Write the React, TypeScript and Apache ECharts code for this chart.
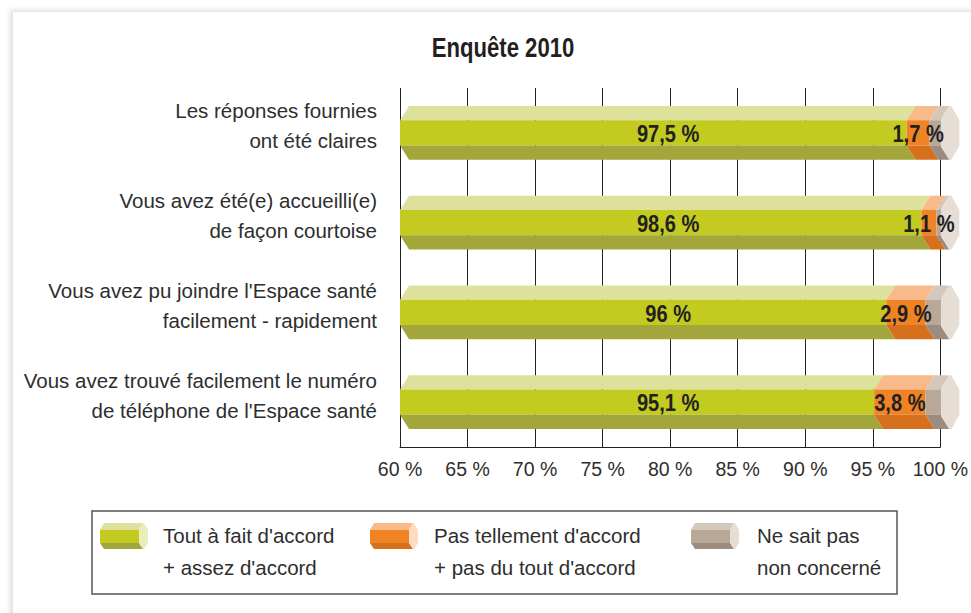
import React, { useEffect, useRef } from "react";
import * as echarts from "echarts";

const title = "Enquête 2010";
const categories = [
  "Les réponses fournies\nont été claires",
  "Vous avez été(e) accueilli(e)\nde façon courtoise",
  "Vous avez pu joindre l'Espace santé\nfacilement - rapidement",
  "Vous avez trouvé facilement le numéro\nde téléphone de l'Espace santé",
];
const agreeValues = [97.5, 98.6, 96, 95.1];
const disagreeValues = [1.7, 1.1, 2.9, 3.8];
const unknownValues = [0.8, 0.3, 1.1, 1.1];
const axisMin = 60;
const axisMax = 100;
const axisStep = 5;
const legendLabels = [
  "Tout à fait d'accord\n+ assez d'accord",
  "Pas tellement d'accord\n+ pas du tout d'accord",
  "Ne sait pas\nnon concerné",
];

const GREEN = { top: "#dde19b", mid: "#c3cb20", bottom: "#a2a63b", cap: "#e9ecbb" };
const ORANGE = { top: "#f9ba8b", mid: "#f08425", bottom: "#d7701d", cap: "#fddcc1" };
const GREY = { top: "#d4c8bc", mid: "#b9a898", bottom: "#9b8c7f", cap: "#e6ddd5" };
const PALETTES = [GREEN, ORANGE, GREY];

const REGULAR = '"Liberation Sans", Arial, sans-serif';
const TEXT = "#2e2e2e";
const NARROW_SCALE = 0.82;

const fmt = (v: number) => String(v).replace(".", ",") + " %";

function segmentRenderer(colors: any, withCap: boolean) {
  return (params: any, api: any) => {
    const cat = api.value(0);
    const s = api.value(1);
    const e = api.value(2);
    const cs = params.coordSys;
    const p0 = api.coord([s, cat]);
    const p1 = api.coord([e, cat]);
    const xs = Math.max(p0[0], cs.x);
    const xe = p1[0];
    const cy = p0[1];
    const H = api.size([0, 1])[1] * 0.6;
    const yT = cy - H / 2;
    const yB = cy + H / 2;
    const yMT = cy - H * 0.235;
    const yMB = cy + H * 0.235;
    const d = 9;
    const children: any[] = [
      {
        type: "polygon",
        shape: { points: [[xs, yMT], [xs + d, yT], [xe + d, yT], [xe, yMT]] },
        style: { fill: colors.top },
      },
      {
        type: "rect",
        shape: { x: xs, y: yMT, width: xe - xs, height: yMB - yMT },
        style: { fill: colors.mid },
      },
      {
        type: "polygon",
        shape: { points: [[xs, yMB], [xs + d, yB], [xe + d, yB], [xe, yMB]] },
        style: { fill: colors.bottom },
      },
    ];
    if (withCap) {
      children.push({
        type: "polygon",
        shape: {
          points: [
            [xe, yMT], [xe + d, yT], [xe + d + 2, yT], [xe + 19, yMT],
            [xe + 19, yMB], [xe + d + 2, yB], [xe + d, yB], [xe, yMB],
          ],
        },
        style: { fill: colors.cap },
      });
    }
    return { type: "group", children };
  };
}

function labelRenderer(params: any, api: any) {
  const cat = api.value(0);
  const a = api.value(1);
  const dis = api.value(2);
  const cs = params.coordSys;
  const pa = api.coord([a, cat]);
  const pb = api.coord([a + dis, cat]);
  const cy = pa[1] + 1;
  const base = {
    fontFamily: REGULAR,
    fontWeight: "bold",
    fontSize: 24.5,
    fill: "#231f20",
    align: "center",
    verticalAlign: "middle",
  };
  return {
    type: "group",
    children: [
      { type: "text", x: cs.x + cs.width / 2 - 2, y: cy, scaleX: NARROW_SCALE, style: { ...base, text: fmt(a) } },
      { type: "text", x: (pa[0] + pb[0]) / 2, y: cy, scaleX: NARROW_SCALE, style: { ...base, text: fmt(dis) } },
    ],
  };
}

function categoryRenderer(params: any, api: any) {
  const cat = api.value(0);
  const p = api.coord([axisMin, cat]);
  return {
    type: "text",
    style: {
      text: categories[params.dataIndex],
      x: p[0] - 23,
      y: p[1] - 7,
      fontFamily: REGULAR,
      fontSize: 20.5,
      lineHeight: 30,
      fill: TEXT,
      align: "right",
      verticalAlign: "middle",
    },
  };
}

function legendIcon(x0: number, colors: any) {
  const yT = 523, yMT = 530, yMB = 543, yB = 549;
  const d = 4;
  const xe = x0 + 39;
  return [
    { type: "polygon", shape: { points: [[x0, yMT], [x0 + d, yT], [xe + d, yT], [xe, yMT]] }, style: { fill: colors.top } },
    { type: "rect", shape: { x: x0, y: yMT, width: xe - x0, height: yMB - yMT }, style: { fill: colors.mid } },
    { type: "polygon", shape: { points: [[x0, yMB], [x0 + d, yB], [xe + d, yB], [xe, yMB]] }, style: { fill: colors.bottom } },
    {
      type: "polygon",
      shape: { points: [[xe, yMT], [xe + d, yT], [xe + 5, yT], [xe + 9, yMT], [xe + 9, yMB], [xe + 5, yB], [xe + d, yB], [xe, yMB]] },
      style: { fill: colors.cap },
    },
  ];
}

export default function App() {
  const ref = useRef<HTMLDivElement>(null);
  useEffect(() => {
    if (!ref.current) return;
    const chart = echarts.init(ref.current, null, { renderer: "svg" });
    const starts = [
      agreeValues.map(() => 0),
      agreeValues.map((a) => a),
      agreeValues.map((a, i) => a + disagreeValues[i]),
    ];
    const ends = [
      agreeValues.map((a) => a),
      agreeValues.map((a, i) => a + disagreeValues[i]),
      agreeValues.map((a, i) => a + disagreeValues[i] + unknownValues[i]),
    ];
    const legendIconX = [100, 370, 691];
    const legendTextX = [163, 434, 757];
    const graphics: any[] = [
      {
        type: "text",
        x: 503,
        y: 48,
        scaleX: NARROW_SCALE,
        style: {
          text: title,
          fontFamily: REGULAR,
          fontWeight: "bold",
          fontSize: 27,
          fill: "#231f20",
          align: "center",
          verticalAlign: "middle",
        },
      },
      {
        type: "rect",
        shape: { x: 92, y: 511, width: 805, height: 83 },
        style: { fill: "none", stroke: "#555", lineWidth: 1.5 },
      },
    ];
    legendLabels.forEach((lbl, i) => {
      legendIcon(legendIconX[i], PALETTES[i]).forEach((g) => graphics.push(g));
      graphics.push({
        type: "text",
        style: {
          text: lbl,
          x: legendTextX[i],
          y: 519,
          fontFamily: REGULAR,
          fontSize: 20.5,
          lineHeight: 32,
          fill: TEXT,
          align: "left",
          verticalAlign: "top",
        },
      });
    });

    chart.setOption({
      animation: false,
      grid: { left: 400, right: 19.5, top: 88, bottom: 166, containLabel: false },
      xAxis: {
        type: "value",
        min: axisMin,
        max: axisMax,
        interval: axisStep,
        axisLine: { show: true, lineStyle: { color: "#222", width: 1 } },
        axisTick: { show: false },
        splitLine: { show: true, lineStyle: { color: "#222", width: 1 } },
        axisLabel: {
          formatter: "{value} %",
          fontFamily: REGULAR,
          fontSize: 19.5,
          color: TEXT,
          margin: 12,
        },
      },
      yAxis: {
        type: "category",
        data: categories,
        inverse: true,
        axisLine: { show: false },
        axisTick: { show: false },
        splitLine: { show: false },
        axisLabel: { show: false },
      },
      series: [
        ...PALETTES.map((p, k) => ({
          type: "custom",
          renderItem: segmentRenderer(p, k === 2),
          data: categories.map((_, i) => [i, starts[k][i], ends[k][i]]),
          encode: { x: [1, 2], y: 0 },
          clip: false,
          z: 3,
        })),
        {
          type: "custom",
          renderItem: labelRenderer,
          data: categories.map((_, i) => [i, agreeValues[i], disagreeValues[i]]),
          encode: { x: [1], y: 0 },
          clip: false,
          z: 5,
        },
        {
          type: "custom",
          renderItem: categoryRenderer,
          data: categories.map((_, i) => [i]),
          encode: { y: 0 },
          clip: false,
          z: 5,
        },
      ],
      graphic: graphics,
    });
    return () => chart.dispose();
  }, []);

  return (
    <div style={{ position: "fixed", left: 0, top: 0, width: 971, height: 613, background: "#fff", overflow: "hidden" }}>
      <div
        style={{
          position: "absolute",
          left: 13,
          top: 12,
          width: 980,
          height: 620,
          background: "#fff",
          boxShadow: "-3px -2px 5px rgba(0,0,0,0.13)",
        }}
      />
      <div ref={ref} style={{ position: "absolute", left: 0, top: 0, width: 971, height: 613 }} />
    </div>
  );
}
